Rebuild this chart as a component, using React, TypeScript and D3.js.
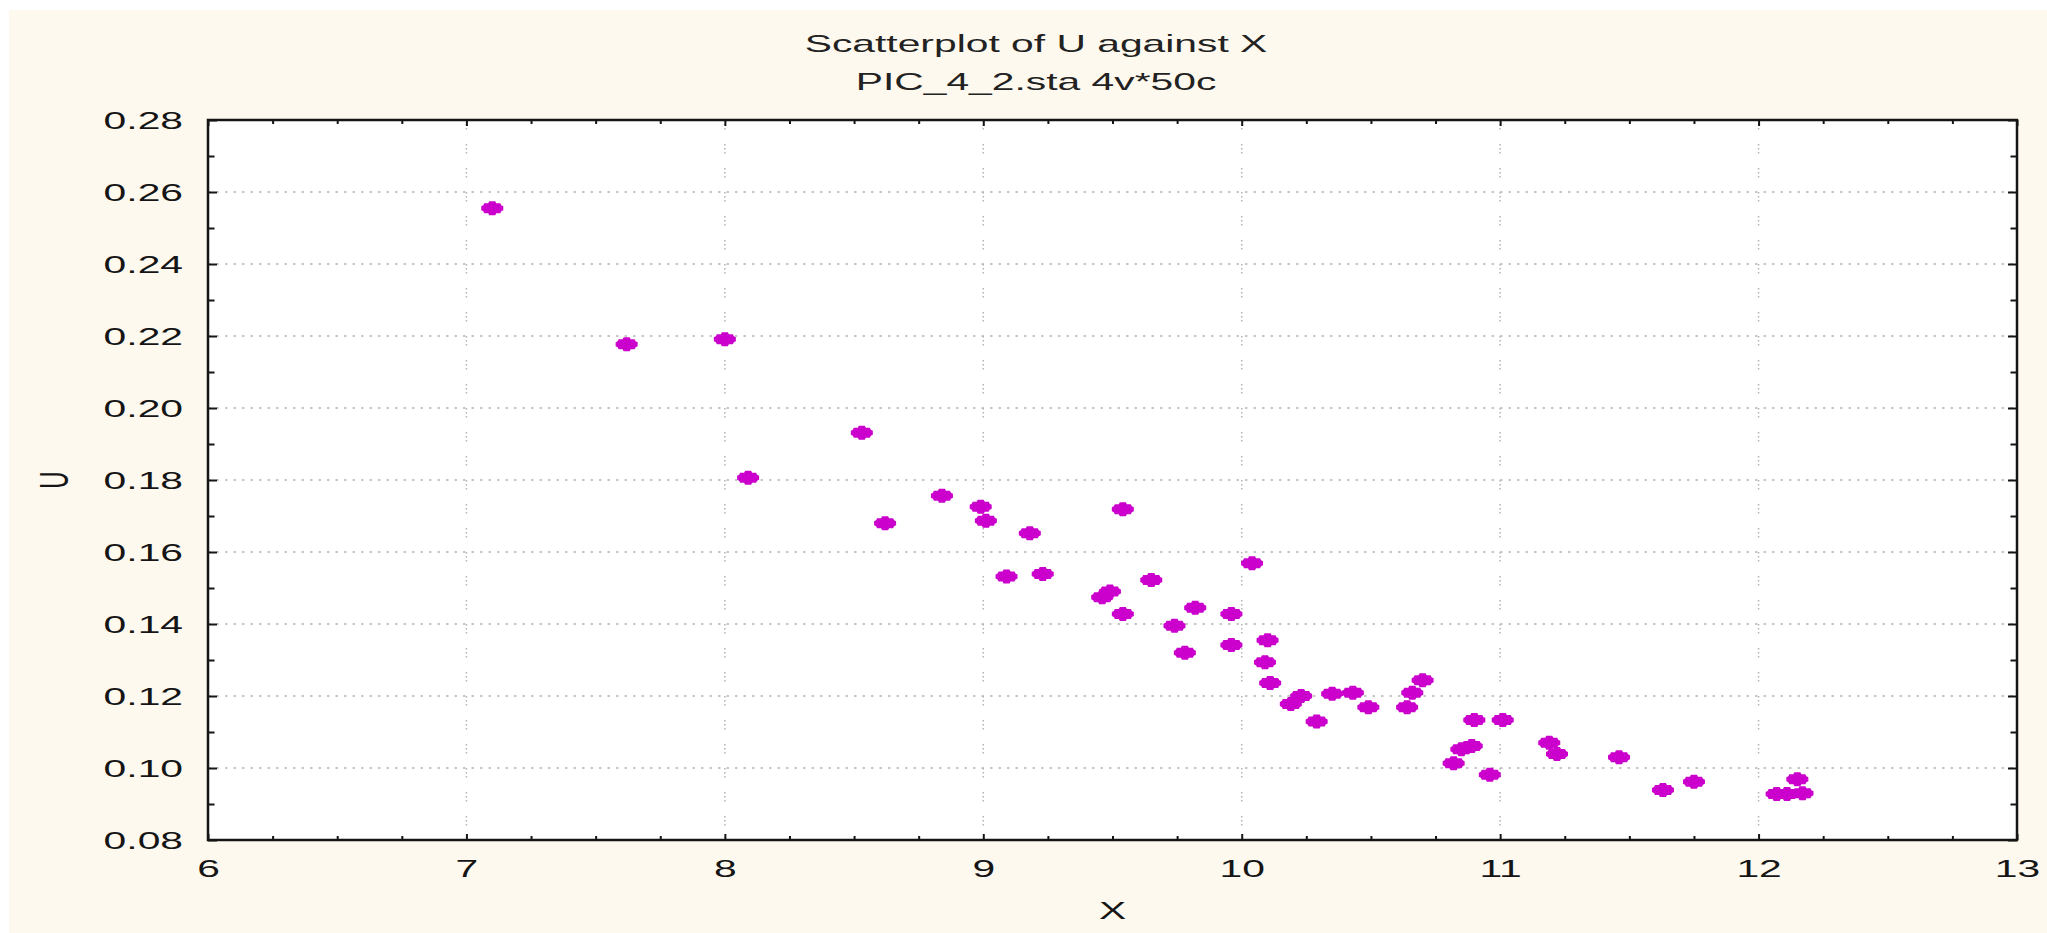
import React, { useEffect, useRef } from 'react';
import * as d3 from 'd3';

const xValues = [
  7.10, 7.62, 8.00, 8.09, 8.53, 8.62, 8.84, 8.99, 9.01, 9.18,
  9.54, 9.09, 9.23, 9.46, 9.49, 9.54, 9.65, 9.74, 9.82, 9.78,
  9.96, 9.96, 10.04, 10.10, 10.09, 10.11, 10.19, 10.23, 10.29, 10.35,
  10.43, 10.49, 10.64, 10.66, 10.70, 10.90, 11.01, 10.85, 10.89, 10.82,
  10.96, 11.19, 11.22, 11.46, 11.63, 11.75, 12.07, 12.11, 12.17, 12.15,
];
const uValues = [
  0.2555, 0.2177, 0.2191, 0.1806, 0.1931, 0.1680, 0.1756, 0.1726, 0.1687, 0.1652,
  0.1719, 0.1532, 0.1539, 0.1474, 0.1490, 0.1428, 0.1522, 0.1395, 0.1445, 0.1320,
  0.1428, 0.1342, 0.1569, 0.1355, 0.1294, 0.1236, 0.1178, 0.1200, 0.1129, 0.1206,
  0.1209, 0.1169, 0.1169, 0.1209, 0.1244, 0.1133, 0.1133, 0.1052, 0.1061, 0.1013,
  0.0981, 0.1070, 0.1039, 0.1030, 0.0939, 0.0962, 0.0928, 0.0928, 0.0930, 0.0969,
];
const xTicks = [6, 7, 8, 9, 10, 11, 12, 13];
const yTicks = [0.08, 0.10, 0.12, 0.14, 0.16, 0.18, 0.20, 0.22, 0.24, 0.26, 0.28];
const titleLines = ['Scatterplot of U against X', 'PIC_4_2.sta 4v*50c'];
const xLabel = 'X';
const yLabel = 'U';

export default function App() {
  const svgRef = useRef<SVGSVGElement>(null);

  useEffect(() => {
    if (!svgRef.current) return;
    const svg = d3.select(svgRef.current);
    svg.selectAll('*').remove();

    const width = 2047;
    const height = 933;
    const plot = { left: 208, right: 2017, top: 120, bottom: 840 };
    const sx = 1.7; // the original picture is stretched sideways
    const font = '"Liberation Sans", Arial, sans-serif';
    const ink = '#151515';

    const xScale = d3.scaleLinear().domain([6, 13]).range([plot.left, plot.right]);
    const yScale = d3.scaleLinear().domain([0.08, 0.28]).range([plot.bottom, plot.top]);

    // backgrounds
    svg.append('rect').attr('width', width).attr('height', height).attr('fill', '#ffffff');
    svg.append('rect')
      .attr('x', 9).attr('y', 10)
      .attr('width', width - 9).attr('height', height - 10)
      .attr('fill', '#fef9ee');
    svg.append('rect')
      .attr('x', plot.left).attr('y', plot.top)
      .attr('width', plot.right - plot.left).attr('height', plot.bottom - plot.top)
      .attr('fill', '#ffffff');

    // dotted grid
    const grid = svg.append('g').attr('stroke', '#b4b4b4').attr('stroke-width', 1.5);
    grid.selectAll('line.gx')
      .data(xTicks.slice(1, -1))
      .join('line')
      .attr('x1', d => xScale(d)).attr('x2', d => xScale(d))
      .attr('y1', plot.top).attr('y2', plot.bottom)
      .attr('stroke-dasharray', '1.5,2.5,1.5,2.5,1.5,14.5');
    grid.selectAll('line.gy')
      .data(yTicks.slice(1, -1))
      .join('line')
      .attr('y1', d => yScale(d)).attr('y2', d => yScale(d))
      .attr('x1', plot.left).attr('x2', plot.right)
      .attr('stroke-dasharray', '2.5,6');

    const xMinor = d3.range(6, 13.001, 0.25).filter(v => Math.abs(v - Math.round(v)) > 1e-6);
    const yMinor = d3.range(0.09, 0.28, 0.02);

    const addAxis = (axis: any, tx: number, ty: number) => {
      const g = svg.append('g')
        .attr('transform', `translate(${tx},${ty})`)
        .call(axis);
      g.select('.domain').remove();
      g.selectAll('line').attr('stroke', ink).attr('stroke-width', 2);
      return g;
    };

    // bottom axis with labels
    const bottom = addAxis(
      d3.axisBottom(xScale).tickValues(xTicks).tickSizeInner(-6).tickSizeOuter(0).tickFormat(d3.format('d')),
      0, plot.bottom);
    bottom.selectAll('text')
      .attr('y', 37).attr('dy', 0)
      .attr('transform', `scale(${sx},1)`)
      .attr('font-family', font).attr('font-size', 24).attr('fill', ink);
    addAxis(d3.axisBottom(xScale).tickValues(xMinor).tickSizeInner(-4).tickSizeOuter(0).tickFormat(() => ''), 0, plot.bottom);
    addAxis(d3.axisTop(xScale).tickValues(xTicks).tickSizeInner(-6).tickSizeOuter(0).tickFormat(() => ''), 0, plot.top);
    addAxis(d3.axisTop(xScale).tickValues(xMinor).tickSizeInner(-4).tickSizeOuter(0).tickFormat(() => ''), 0, plot.top);

    // left axis with labels
    const left = addAxis(
      d3.axisLeft(yScale).tickValues(yTicks).tickSizeInner(-9).tickSizeOuter(0).tickFormat(d3.format('.2f')),
      plot.left, 0);
    left.selectAll('text')
      .attr('x', -25 / sx).attr('dy', '0.36em')
      .attr('text-anchor', 'end')
      .attr('transform', `scale(${sx},1)`)
      .attr('font-family', font).attr('font-size', 24).attr('fill', ink);
    addAxis(d3.axisLeft(yScale).tickValues(yMinor).tickSizeInner(-6.5).tickSizeOuter(0).tickFormat(() => ''), plot.left, 0);
    addAxis(d3.axisRight(yScale).tickValues(yTicks).tickSizeInner(-9).tickSizeOuter(0).tickFormat(() => ''), plot.right, 0);
    addAxis(d3.axisRight(yScale).tickValues(yMinor).tickSizeInner(-6.5).tickSizeOuter(0).tickFormat(() => ''), plot.right, 0);

    // frame
    svg.append('rect')
      .attr('x', plot.left).attr('y', plot.top)
      .attr('width', plot.right - plot.left).attr('height', plot.bottom - plot.top)
      .attr('fill', 'none').attr('stroke', ink).attr('stroke-width', 2.5);

    // points: notched plus-like blob, as in the original
    const marker = 'M-3,-7 L3,-7 L4,-5 L8,-5 L9,-3 L11,-2 L11,2 L9,3 L8,5 L4,5 L3,7 '
      + 'L-3,7 L-4,5 L-8,5 L-9,3 L-11,2 L-11,-2 L-9,-3 L-8,-5 L-4,-5 Z';
    svg.append('g')
      .selectAll('path')
      .data(xValues.map((x, i) => ({ x, u: uValues[i] })))
      .join('path')
      .attr('d', marker)
      .attr('transform', d => `translate(${xScale(d.x)},${yScale(d.u)})`)
      .attr('fill', '#cc00cc');

    // titles
    titleLines.forEach((line, i) => {
      svg.append('text')
        .attr('transform', `translate(1036,${52 + i * 38}) scale(${sx},1)`)
        .attr('text-anchor', 'middle')
        .attr('font-family', font).attr('font-size', 24).attr('fill', '#222')
        .text(line);
    });

    svg.append('text')
      .attr('transform', `translate(${(plot.left + plot.right) / 2},919) scale(${sx},1)`)
      .attr('text-anchor', 'middle')
      .attr('font-family', font).attr('font-size', 24).attr('fill', ink)
      .text(xLabel);

    svg.append('text')
      .attr('transform', `translate(53,${(plot.top + plot.bottom) / 2}) scale(${sx},1) rotate(-90)`)
      .attr('text-anchor', 'middle')
      .attr('dy', '0.36em')
      .attr('font-family', font).attr('font-size', 24).attr('fill', ink)
      .text(yLabel);
  }, []);

  return (
    <>
      <style>{'body{margin:0;overflow:hidden}'}</style>
      <svg ref={svgRef} width={2047} height={933} style={{ display: 'block' }} />
    </>
  );
}
